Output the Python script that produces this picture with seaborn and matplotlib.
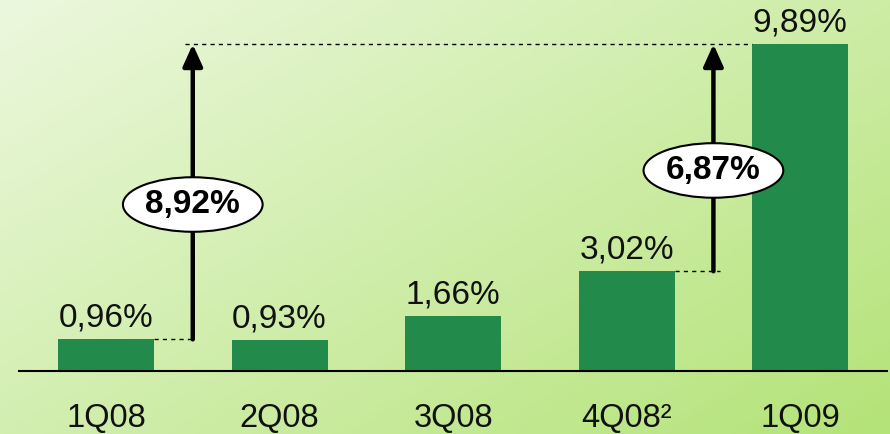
import numpy as np
import pandas as pd
import matplotlib
matplotlib.use("Agg")
import matplotlib.pyplot as plt
import seaborn as sns
from matplotlib.patches import Ellipse

# Data
quarters = ["1Q08", "2Q08", "3Q08", "4Q08\u00b2", "1Q09"]
rates = [0.96, 0.93, 1.66, 3.02, 9.89]
rate_labels = ["0,96%", "0,93%", "1,66%", "3,02%", "9,89%"]
jump_labels = ["8,92%", "6,87%"]

df = pd.DataFrame({"quarter": quarters, "rate": rates})

sns.set_theme(style="white")
plt.rcParams["font.family"] = ["Liberation Sans", "DejaVu Sans"]

fig = plt.figure(figsize=(8.9, 4.34), dpi=100)

# gradient background: pale top-left to greener bottom-right
bg = fig.add_axes([0, 0, 1, 1], zorder=-1)
xx, yy = np.meshgrid(np.linspace(0, 1, 200), np.linspace(0, 1, 100))
t = np.clip(0.55 * xx + 0.45 * yy, 0, 1)
c0 = np.array([0xEC, 0xF8, 0xDE]) / 255
c1 = np.array([0xB4, 0xE3, 0x78]) / 255
img = c0[None, None, :] * (1 - t[..., None]) + c1[None, None, :] * t[..., None]
bg.imshow(img, aspect="auto", extent=[0, 1, 0, 1])
bg.axis("off")

ax = fig.add_axes([0.0216, 0.145, 0.975, 0.83])
ax.patch.set_alpha(0)
sns.barplot(data=df, x="quarter", y="rate", color="#228B4B", saturation=1,
            width=0.553, linewidth=0, ax=ax)
ax.set_xlim(-0.5, 4.5)
ax.set_ylim(0, 10.9)

for i, (v, lab) in enumerate(zip(rates, rate_labels)):
    ax.annotate(lab, (i, v), xytext=(0, 4), textcoords="offset points",
                ha="center", va="bottom", fontsize=24, color="#111111")

half = 0.553 / 2
# dashed guides
ax.plot([0 + half, 0.5], [rates[0], rates[0]], color="black", lw=1, dashes=(3, 3))
ax.plot([0.455, 4 - half], [rates[4], rates[4]], color="black", lw=1, dashes=(3, 3))
ax.plot([3 + half, 3.54], [rates[3], rates[3]], color="black", lw=1, dashes=(3, 3))

# arrows with ellipse labels
for x0, y0, ey, lab in [(0.5, rates[0], 5.04, jump_labels[0]),
                        (3.5, rates[3], 6.07, jump_labels[1])]:
    ax.annotate("", xy=(x0, rates[4]), xytext=(x0, y0),
                arrowprops=dict(arrowstyle="-|>,head_length=0.6,head_width=0.27",
                                lw=3.2, color="black", mutation_scale=22,
                                shrinkA=0, shrinkB=0))
    ax.add_patch(Ellipse((x0, ey), 0.805, 1.65, facecolor="white",
                         edgecolor="black", lw=1.5, zorder=5))
    ax.text(x0, ey, lab, ha="center", va="center", fontsize=24,
            fontweight="bold", color="black", zorder=6)

ax.set_xlabel("")
ax.set_ylabel("")
ax.set_yticks([])
ax.tick_params(axis="x", length=0, pad=23, labelsize=23.5, labelcolor="#111111")
for s in ["top", "right", "left"]:
    ax.spines[s].set_visible(False)
ax.spines["bottom"].set_color("black")
ax.spines["bottom"].set_linewidth(1.5)

fig.savefig("out.png", dpi=100)
